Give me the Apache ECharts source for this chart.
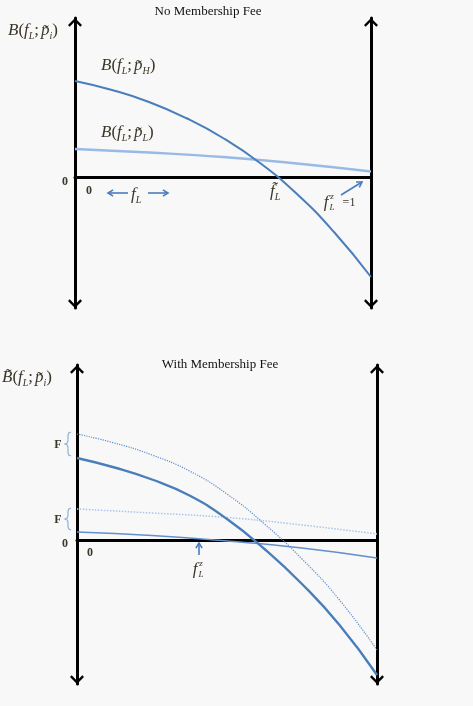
<!DOCTYPE html>
<html>
<head>
<meta charset="utf-8">
<script src="https://cdn.jsdelivr.net/npm/echarts@6/dist/echarts.min.js"></script>
<style>
  html, body { margin: 0; padding: 0; background: #f8f8f8; }
  #chart { width: 473px; height: 706px; }
</style>
</head>
<body>
<div id="chart"></div>
<script>
// x = f_L share (0..1), y = benefit in arbitrary units, 0 = horizontal axis
const noFeeHigh = [[0, 9.6], [0.125, 8.7], [0.25, 7.5], [0.375, 5.9], [0.5, 3.9], [0.625, 1.4], [0.75, -1.7], [0.875, -5.5], [1, -10.0]];
const noFeeLow = [[0, 2.8], [0.25, 2.45], [0.5, 2.0], [0.75, 1.35], [1, 0.55]];

const feeHigh = [[0, 8.2], [0.125, 7.25], [0.25, 6.05], [0.375, 4.45], [0.5, 2.1], [0.625, -0.9], [0.75, -4.4], [0.875, -8.5], [1, -13.5]];
const feeHighPlusF = [[0, 10.6], [0.125, 9.7], [0.25, 8.5], [0.375, 6.9], [0.5, 4.6], [0.625, 1.6], [0.75, -1.9], [0.875, -6.0], [1, -11.0]];
const feeLowPlusF = [[0, 3.1], [0.25, 2.7], [0.5, 2.25], [0.75, 1.5], [1, 0.6]];
const feeLow = [[0, 0.8], [0.25, 0.45], [0.5, -0.1], [0.75, -0.8], [1, -1.8]];

const yRangeTop = [-13.1, 15.9];
const yRangeBottom = [-14.4, 17.5];

const ink = '#3b3628';
const blue = '#4a7ebb';
const serif = 'Liberation Serif';
const chevron = 'path://M7,0 L14,7 L12.3,8.7 L7,3.4 L1.7,8.7 L0,7 Z';

const chart = echarts.init(document.getElementById('chart'));

function yAxis(gridIndex, range, position) {
    return {
        type: 'value',
        gridIndex: gridIndex,
        position: position,
        min: range[0],
        max: range[1],
        axisLine: {
            show: true,
            onZero: false,
            symbol: [chevron, chevron],
            symbolSize: [14, 8.7],
            symbolOffset: [4.3, -4.3],
            lineStyle: { color: '#000', width: 3 }
        },
        axisTick: { show: false },
        axisLabel: { show: false },
        splitLine: { show: false }
    };
}

function xAxis(gridIndex) {
    return {
        type: 'value',
        gridIndex: gridIndex,
        min: 0,
        max: 1,
        axisLine: { onZero: true, lineStyle: { color: '#000', width: 3 } },
        axisTick: { show: false },
        axisLabel: { show: false },
        splitLine: { show: false }
    };
}

function curve(idx, data, color, width, type) {
    return {
        type: 'line',
        xAxisIndex: idx,
        yAxisIndex: idx * 2,
        data: data,
        smooth: 0.5,
        symbol: 'none',
        silent: true,
        lineStyle: { color: color, width: width, type: type || 'solid' }
    };
}

const rich = {
    m: { fontFamily: serif, fontStyle: 'italic', fontSize: 17, fill: ink, lineHeight: 20 },
    r: { fontFamily: serif, fontSize: 17, fill: ink, lineHeight: 20 },
    g: { fontFamily: serif, fontSize: 17, fill: ink, lineHeight: 20, padding: [0, 2, 0, 0] },
    s: { fontFamily: serif, fontStyle: 'italic', fontSize: 10, fill: ink, lineHeight: 10, verticalAlign: 'bottom' }
};

function math(x, y, text, align) {
    return {
        type: 'text', x: x, y: y,
        style: { text: text, rich: rich, align: align || 'left', verticalAlign: 'middle' }
    };
}

function plain(x, y, text, size, weight, color, italic) {
    return {
        type: 'text', x: x, y: y,
        style: {
            text: text, fontFamily: serif, fontSize: size, fontWeight: weight || 'normal',
            fontStyle: italic ? 'italic' : 'normal', fill: color || ink,
            align: 'center', verticalAlign: 'middle'
        }
    };
}

function arrow(x1, y1, x2, y2) {
    const a = Math.atan2(y2 - y1, x2 - x1), h = 6, s = 0.55;
    return {
        type: 'group',
        children: [
            { type: 'line', shape: { x1: x1, y1: y1, x2: x2, y2: y2 }, style: { stroke: blue, lineWidth: 1.6 } },
            {
                type: 'polyline',
                shape: { points: [[x2 - h * Math.cos(a - s), y2 - h * Math.sin(a - s)], [x2, y2], [x2 - h * Math.cos(a + s), y2 - h * Math.sin(a + s)]] },
                style: { stroke: blue, lineWidth: 1.6, fill: null }
            }
        ]
    };
}

// curly brace "{"
function brace(x, y0, y1) {
    const ym = (y0 + y1) / 2;
    return {
        type: 'polyline',
        shape: {
            points: [[x + 3, y0], [x + 0.8, y0 + 1], [x, y0 + 3], [x, ym - 3], [x - 0.8, ym - 1], [x - 3, ym],
                [x - 0.8, ym + 1], [x, ym + 3], [x, y1 - 3], [x + 0.8, y1 - 1], [x + 3, y1]]
        },
        style: { stroke: '#8fb1dc', lineWidth: 1.2, fill: null }
    };
}

// f_L with stacked sub L and sup z
function fz(x, y) {
    return {
        type: 'group',
        children: [
            plain(x, y, 'f', 17, 'normal', ink, true),
            plain(x + 6, y - 6, 'z', 9, 'normal', ink, true),
            plain(x + 6, y + 5, 'L', 9, 'normal', ink, true)
        ]
    };
}

const option = {
    backgroundColor: '#f8f8f8',
    animation: false,
    grid: [
        { left: 75, width: 296, top: 18, height: 290 },
        { left: 77, width: 300, top: 365, height: 319 }
    ],
    xAxis: [xAxis(0), xAxis(1)],
    yAxis: [
        yAxis(0, yRangeTop, 'left'), yAxis(0, yRangeTop, 'right'),
        yAxis(1, yRangeBottom, 'left'), yAxis(1, yRangeBottom, 'right')
    ],
    series: [
        curve(0, noFeeLow, '#98bae4', 2.4),
        curve(0, noFeeHigh, blue, 2),
        curve(1, feeLowPlusF, '#a9c5e9', 1.5, 'dotted'),
        curve(1, feeLow, '#6390cb', 1.6),
        curve(1, feeHighPlusF, '#5d8dcf', 1.2, 'dotted'),
        curve(1, feeHigh, blue, 2.4)
    ],
    graphic: [
        // top panel
        plain(208, 12, 'No Membership Fee', 13, 'normal', '#111'),
        math(8, 31, '{m|B}{r|(}{m|f}{s|L}{g|;}{m|p\u0303}{s|i}{r|)}'),
        math(101, 66, '{m|B}{r|(}{m|f}{s|L}{g|;}{m|p\u0303}{s|H}{r|)}'),
        math(101, 133, '{m|B}{r|(}{m|f}{s|L}{g|;}{m|p\u0303}{s|L}{r|)}'),
        plain(65, 182, '0', 12, 'bold'),
        plain(89, 191, '0', 12, 'bold'),
        arrow(128, 193, 108, 193),
        arrow(148, 193, 168, 193),
        math(131, 195, '{m|f}{s|L}'),
        math(270, 192, '{m|f\u0303}{s|L}'),
        fz(326, 203),
        plain(349, 203, '=1', 12, 'normal'),
        arrow(341, 195, 362, 182),
        // bottom panel
        plain(220, 365, 'With Membership Fee', 13, 'normal', '#111'),
        math(2, 378, '{m|B\u0303}{r|(}{m|f}{s|L}{g|;}{m|p\u0303}{s|i}{r|)}'),
        plain(58, 445, 'F', 12, 'bold'),
        plain(58, 520, 'F', 12, 'bold'),
        brace(68, 432, 456),
        brace(68, 508, 530),
        plain(65, 544, '0', 12, 'bold'),
        plain(90, 553, '0', 12, 'bold'),
        arrow(199, 555, 199, 543),
        fz(195, 570)
    ]
};

chart.setOption(option);
</script>
</body>
</html>
